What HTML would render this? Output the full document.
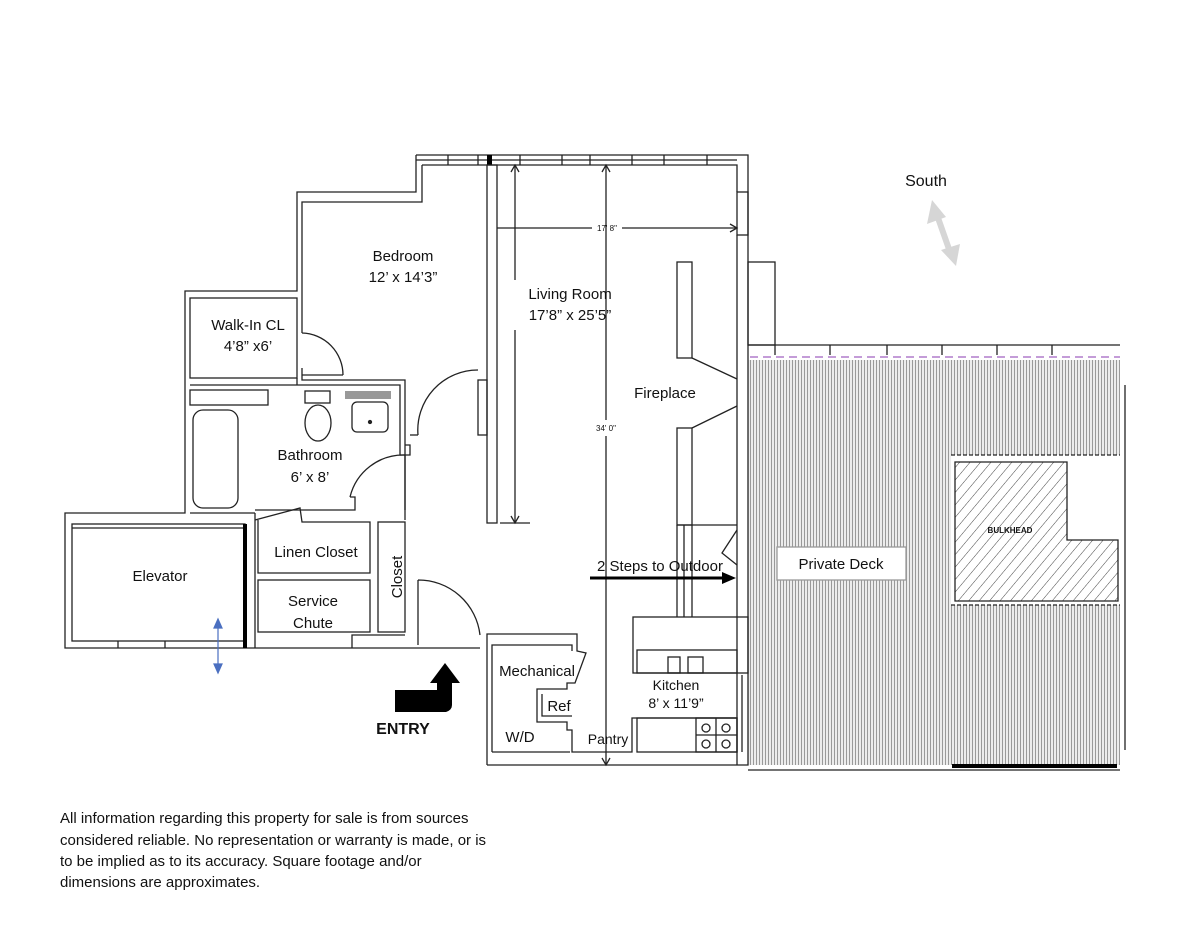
<!DOCTYPE html>
<html><head><meta charset="utf-8"><style>
html,body{margin:0;padding:0;background:#fff;}
svg{display:block}
text{font-family:"Liberation Sans",sans-serif;fill:#111}
</style></head><body>
<svg width="1200" height="933" viewBox="0 0 1200 933" xmlns="http://www.w3.org/2000/svg">
<defs>
<pattern id="deck" width="3" height="10" patternUnits="userSpaceOnUse">
<rect width="3" height="10" fill="#ececec"/><line x1="0.5" y1="0" x2="0.5" y2="10" stroke="#999" stroke-width="1"/>
</pattern>
<pattern id="hatch" width="8" height="8" patternUnits="userSpaceOnUse" patternTransform="rotate(40)">
<rect width="8" height="8" fill="#fff"/><line x1="0" y1="0" x2="0" y2="8" stroke="#444" stroke-width="1"/>
</pattern>
</defs>
<g fill="none" stroke="#222" stroke-width="1.3">
<!-- Deck -->
<rect x="748" y="360" width="372" height="405" fill="url(#deck)" stroke="none"/>
<rect x="951" y="455" width="175" height="150" fill="#fff" stroke="none"/>
<path d="M955 462 H1067 V540 H1118 V601 H955 Z" fill="url(#hatch)" stroke="#222"/>
<line x1="951" y1="455" x2="1120" y2="455" stroke-dasharray="4 2"/>
<line x1="951" y1="605" x2="1120" y2="605" stroke-dasharray="4 2"/>
<line x1="748" y1="345" x2="1120" y2="345"/>
<line x1="750" y1="357" x2="1120" y2="357" stroke="#a060c0" stroke-dasharray="8 5"/>
<g><line x1="775" y1="345" x2="775" y2="355"/><line x1="830" y1="345" x2="830" y2="355"/><line x1="887" y1="345" x2="887" y2="355"/><line x1="942" y1="345" x2="942" y2="355"/><line x1="997" y1="345" x2="997" y2="355"/><line x1="1052" y1="345" x2="1052" y2="355"/></g>
<line x1="748" y1="770" x2="1120" y2="770"/>
<rect x="952" y="764" width="165" height="4" fill="#000" stroke="none"/>
<line x1="1125" y1="385" x2="1125" y2="750"/>
<rect x="777" y="547" width="129" height="33" fill="#fff" stroke="#999"/>

<!-- top wall -->
<path d="M416 155 H748 V765 H487"/>
<path d="M422 165 H737 V192 M737 235 V765"/>
<rect x="737" y="192" width="11" height="43"/>
<g><line x1="448" y1="155" x2="448" y2="165"/><line x1="478" y1="155" x2="478" y2="165"/><line x1="520" y1="155" x2="520" y2="165"/><line x1="562" y1="155" x2="562" y2="165"/><line x1="590" y1="155" x2="590" y2="165"/><line x1="632" y1="155" x2="632" y2="165"/><line x1="664" y1="155" x2="664" y2="165"/><line x1="707" y1="155" x2="707" y2="165"/><line x1="416" y1="160" x2="737" y2="160"/></g>
<rect x="487" y="155" width="5" height="10" fill="#000" stroke="none"/>
<!-- bedroom walls -->
<path d="M416 155 V192 H297 V291 H185 V513 H65 V648 H480"/>
<path d="M422 165 V202 H302 V333"/>
<rect x="487" y="165" width="10" height="358"/>
<rect x="478" y="380" width="9" height="55"/>
<!-- walk-in -->
<rect x="190" y="298" width="107" height="80"/>
<path d="M302 368 V380 H405 V520"/>
<path d="M297 378 V385 M190 385 H400 V455 M405 455 V510"/>
<path d="M302 333 A42 42 0 0 1 343 375 M302 375 H343"/>
<!-- bathroom -->
<rect x="190" y="390" width="78" height="15"/>
<rect x="193" y="410" width="45" height="98" rx="10"/>
<line x1="190" y1="513" x2="255" y2="513"/>
<rect x="305" y="391" width="25" height="12"/>
<ellipse cx="318" cy="423" rx="13" ry="18"/>
<rect x="345" y="391" width="46" height="8" fill="#999" stroke="none"/>
<rect x="352" y="402" width="36" height="30" rx="5"/>
<circle cx="370" cy="422" r="1.5" fill="#222"/>
<path d="M400 455 H410 V445 H405"/>
<path d="M350 497 A55 55 0 0 1 405 455 M350 497 H355 V510 H255"/>
<path d="M418 435 A60 60 0 0 1 478 370"/>
<line x1="418" y1="435" x2="410" y2="435"/>
<path d="M255 520 L300 508 L302 522 H370 V573 H258 V520"/>
<rect x="258" y="580" width="112" height="52"/>
<rect x="378" y="522" width="27" height="110"/>
<!-- elevator -->
<rect x="72" y="524" width="173" height="117"/>
<line x1="72" y1="528" x2="245" y2="528"/>
<rect x="243" y="524" width="4" height="124" fill="#000" stroke="none"/>
<line x1="118" y1="641" x2="118" y2="648"/><line x1="165" y1="641" x2="165" y2="648"/>
<path d="M255 513 V648 M352 648 V635 H405"/>
<!-- entry door -->
<path d="M418 580 V645 M418 580 A62 62 0 0 1 480 635"/>
<!-- fireplace -->
<rect x="677" y="262" width="15" height="96"/>
<path d="M692 358 L737 379 M737 406 L692 428"/>
<rect x="677" y="428" width="15" height="97"/>
<path d="M677 525 H737 M677 525 V617 M684 525 V617 M692 525 V617"/>
<rect x="748" y="262" width="27" height="83"/>
<path d="M737 530 L722 553 L737 565"/>
<!-- dimension lines -->
<line x1="497" y1="228" x2="592" y2="228"/><line x1="622" y1="228" x2="737" y2="228"/>
<path d="M730 224 L737 228 L730 232"/>
<line x1="515" y1="165" x2="515" y2="280"/><line x1="515" y1="330" x2="515" y2="523"/>
<path d="M511 172 L515 165 L519 172 M511 516 L515 523 L519 516"/>
<line x1="500" y1="523" x2="530" y2="523"/>
<line x1="606" y1="165" x2="606" y2="420"/><line x1="606" y1="436" x2="606" y2="765"/>
<path d="M602 172 L606 165 L610 172 M602 758 L606 765 L610 758"/>
<!-- mechanical / kitchen -->
<path d="M487 765 V634 H577 V651 L586 653 L575 683 H567 V689 H537 V722 H567 V730 H572 V752 H577"/>
<path d="M492 752 V645 H572 V651"/>
<path d="M492 752 H570 M577 752 H632 V718 H737"/>
<path d="M542 694 V716 H572"/>
<rect x="633" y="617" width="115" height="56"/>
<rect x="637" y="650" width="100" height="23"/>
<rect x="668" y="657" width="12" height="16"/><rect x="688" y="657" width="15" height="16"/>
<rect x="637" y="718" width="100" height="34"/>
<rect x="696" y="718" width="41" height="34"/>
<line x1="716" y1="718" x2="716" y2="752"/><line x1="696" y1="735" x2="737" y2="735"/>
<circle cx="706" cy="728" r="4"/><circle cx="726" cy="728" r="4"/><circle cx="706" cy="744" r="4"/><circle cx="726" cy="744" r="4"/>
<line x1="742" y1="675" x2="742" y2="752"/>
</g>
<!-- arrows -->
<line x1="590" y1="578" x2="726" y2="578" stroke="#000" stroke-width="3"/>
<path d="M722 572 L736 578 L722 584 Z" fill="#000"/>
<path d="M395 690 H437 V683 H430 L445 663 L460 683 H452 V705 Q452 710 446 712 H395 Z" fill="#000"/>
<g stroke="#4a6fc0" stroke-width="1.2" fill="#4a6fc0"><line x1="218" y1="624" x2="218" y2="668"/><path d="M214 628 L218 619 L222 628 Z M214 664 L218 673 L222 664 Z"/></g>
<g fill="#d6d6d6" stroke="none">
<line x1="937" y1="215" x2="950" y2="252" stroke="#d6d6d6" stroke-width="6"/>
<path d="M932 200 L927 224 L946 217 Z"/>
<path d="M956 266 L960 244 L941 250 Z"/>
</g>
<!-- labels -->
<g font-size="15" text-anchor="middle">
<text x="403" y="261">Bedroom</text><text x="403" y="282">12’ x 14’3”</text>
<text x="570" y="299">Living Room</text><text x="570" y="320">17’8” x 25’5”</text>
<text x="248" y="330">Walk-In CL</text><text x="248" y="351">4’8” x6’</text>
<text x="310" y="460">Bathroom</text><text x="310" y="482">6’ x 8’</text>
<text x="665" y="398">Fireplace</text>
<text x="316" y="557">Linen Closet</text>
<text x="313" y="606">Service</text><text x="313" y="628">Chute</text>
<text x="160" y="581">Elevator</text>
<text x="660" y="571">2 Steps to Outdoor</text>
<text x="841" y="569">Private Deck</text>
<text x="537" y="676">Mechanical</text>
<text x="559" y="711">Ref</text>
<text x="520" y="742">W/D</text>
<text x="608" y="744" font-size="14">Pantry</text>
<text x="676" y="690" font-size="14">Kitchen</text><text x="676" y="708" font-size="14">8’ x 11’9”</text>
<text x="926" y="186" font-size="16">South</text>
</g>
<text x="397" y="582" font-size="15" text-anchor="middle" transform="rotate(-90 397 577)">Closet</text>
<text x="403" y="734" font-size="16" font-weight="bold" text-anchor="middle">ENTRY</text>
<text x="607" y="231" font-size="8" text-anchor="middle" font-family="Liberation Serif">17' 8"</text>
<text x="606" y="431" font-size="8" text-anchor="middle" font-family="Liberation Serif">34' 0"</text>
<text x="1010" y="533" font-size="8" font-weight="bold" text-anchor="middle" font-family="Liberation Serif" style="fill:#111">BULKHEAD</text>
<g font-size="15">
<text x="60" y="823">All information regarding this property for sale is from sources</text>
<text x="60" y="845">considered reliable. No representation or warranty is made, or is</text>
<text x="60" y="866">to be implied as to its accuracy. Square footage and/or</text>
<text x="60" y="887">dimensions are approximates.</text>
</g>
</svg>
</body></html>
